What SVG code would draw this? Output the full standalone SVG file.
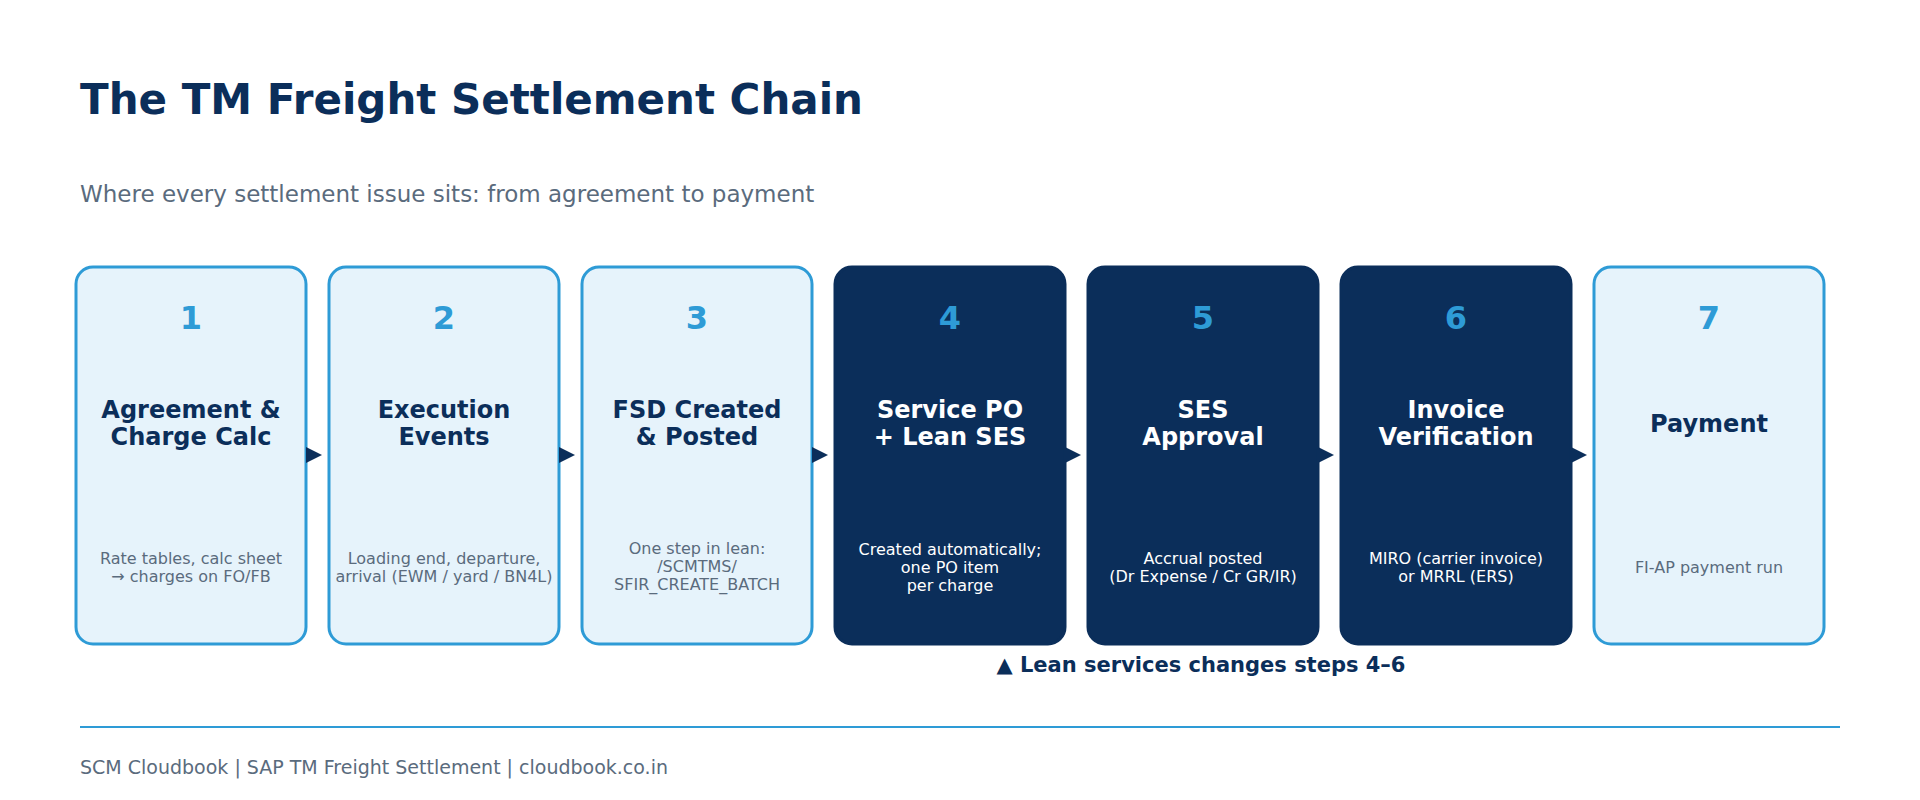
<svg xmlns="http://www.w3.org/2000/svg" width="1920" height="800" viewBox="0 0 1920 800">
<style>
text{font-family:"DejaVu Sans","Noto Sans",sans-serif;text-anchor:middle}
.lb{fill:#E6F3FB;stroke:#2E9BD6;stroke-width:3}
.db{fill:#0B2E5A;stroke:#0B2E5A;stroke-width:3}
.num{font-size:32px;font-weight:bold;fill:#2E9BD6}
.tl{font-size:24px;font-weight:bold;fill:#0B2E5A}
.td{font-size:24px;font-weight:bold;fill:#fff}
.dl{font-size:16px;fill:#5A6B7D}
.dd{font-size:16px;fill:#fff}
.ar{fill:#0B2E5A}
</style>
<rect width="1920" height="800" fill="#fff"/>
<text x="80" y="114" style="text-anchor:start;font-size:42px;font-weight:bold;fill:#0B2E5A">The TM Freight Settlement Chain</text>
<text x="80" y="202" style="text-anchor:start;font-size:23px;fill:#5A6B7D">Where every settlement issue sits: from agreement to payment</text>
<g id="n1"><rect class="lb" x="76" y="267" width="230" height="377" rx="17"/><text class="num" x="191" y="329">1</text><text class="tl" x="191" y="418">Agreement &amp;</text><text class="tl" x="191" y="445">Charge Calc</text><text class="dl" x="191" y="564">Rate tables, calc sheet</text><text class="dl" x="191" y="582">→ charges on FO/FB</text></g>
<g id="n2"><rect class="lb" x="329" y="267" width="230" height="377" rx="17"/><text class="num" x="444" y="329">2</text><text class="tl" x="444" y="418">Execution</text><text class="tl" x="444" y="445">Events</text><text class="dl" x="444" y="564">Loading end, departure,</text><text class="dl" x="444" y="582">arrival (EWM / yard / BN4L)</text></g>
<g id="n3"><rect class="lb" x="582" y="267" width="230" height="377" rx="17"/><text class="num" x="697" y="329">3</text><text class="tl" x="697" y="418">FSD Created</text><text class="tl" x="697" y="445">&amp; Posted</text><text class="dl" x="697" y="554">One step in lean:</text><text class="dl" x="697" y="572">/SCMTMS/</text><text class="dl" x="697" y="590">SFIR_CREATE_BATCH</text></g>
<g id="n4"><rect class="db" x="835" y="267" width="230" height="377" rx="17"/><text class="num" x="950" y="329">4</text><text class="td" x="950" y="418">Service PO</text><text class="td" x="950" y="445">+ Lean SES</text><text class="dd" x="950" y="555">Created automatically;</text><text class="dd" x="950" y="573">one PO item</text><text class="dd" x="950" y="591">per charge</text></g>
<g id="n5"><rect class="db" x="1088" y="267" width="230" height="377" rx="17"/><text class="num" x="1203" y="329">5</text><text class="td" x="1203" y="418">SES</text><text class="td" x="1203" y="445">Approval</text><text class="dd" x="1203" y="564">Accrual posted</text><text class="dd" x="1203" y="582">(Dr Expense / Cr GR/IR)</text></g>
<g id="n6"><rect class="db" x="1341" y="267" width="230" height="377" rx="17"/><text class="num" x="1456" y="329">6</text><text class="td" x="1456" y="418">Invoice</text><text class="td" x="1456" y="445">Verification</text><text class="dd" x="1456" y="564">MIRO (carrier invoice)</text><text class="dd" x="1456" y="582">or MRRL (ERS)</text></g>
<g id="n7"><rect class="lb" x="1594" y="267" width="230" height="377" rx="17"/><text class="num" x="1709" y="329">7</text><text class="tl" x="1709" y="432">Payment</text><text class="dl" x="1709" y="573">FI-AP payment run</text></g>
<g id="connectors">
<polygon class="ar" points="306,447 322,455 306,463"/>
<polygon class="ar" points="559,447 575,455 559,463"/>
<polygon class="ar" points="812,447 828,455 812,463"/>
<polygon class="ar" points="1065,447 1081,455 1065,463"/>
<polygon class="ar" points="1318,447 1334,455 1318,463"/>
<polygon class="ar" points="1571,447 1587,455 1571,463"/>
</g>
<text x="1201" y="672" style="font-size:21px;font-weight:bold;fill:#0B2E5A">▲ Lean services changes steps 4–6</text>
<line x1="80" y1="727" x2="1840" y2="727" stroke="#2E9BD6" stroke-width="2"/>
<text x="80" y="774" style="text-anchor:start;font-size:19px;fill:#5A6B7D">SCM Cloudbook  |  SAP TM Freight Settlement  |  cloudbook.co.in</text>
</svg>
